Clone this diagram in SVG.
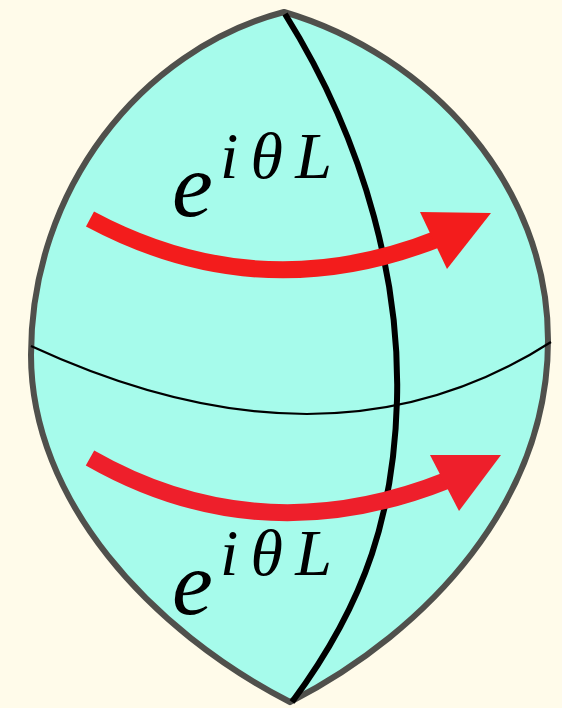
<svg xmlns="http://www.w3.org/2000/svg" width="562" height="708" viewBox="0 0 562 708">
<style>
.lbl{font-family:"Liberation Serif","DejaVu Serif",serif;font-style:italic;fill:#000}
.arrow{fill:none;stroke-width:17}
</style>
<rect width="562" height="708" fill="#fffbea"/>
<g id="sphere">
<path d="M284,12 C140,50 31,190 31,355 C31,500 150,630 290,702 C430,630 548,500 548,340 C548,185 430,55 284,12 Z" fill="#a6fbeb" stroke="#50504c" stroke-width="6" stroke-linejoin="miter"/>
</g>
<g id="connectors">
<path id="equator" d="M31,346 Q330,484 551,342" fill="none" stroke="#000" stroke-width="2.2"/>
<path id="meridian" d="M285,14 C370,150 400,290 397,400 C394,510 368,600 292,702" fill="none" stroke="#000" stroke-width="6"/>
<g id="arrow-top">
<path class="arrow" d="M90,219 Q260,310 440,238" stroke="#f31c1c"/>
<polygon points="420,212 491,213 447,269" fill="#f31c1c"/>
</g>
<g id="arrow-bottom">
<path class="arrow" d="M90,458 Q260,555 448,480" stroke="#ee1f2b"/>
<polygon points="430,455 501,455 459,511" fill="#ee1f2b"/>
</g>
</g>
<g id="label-top">
<text class="lbl" x="172" y="216" font-size="92">e</text>
<text class="lbl" x="220" y="178" font-size="66" textLength="112" lengthAdjust="spacing">iθL</text>
</g>
<g id="label-bottom">
<text class="lbl" x="172" y="614" font-size="92">e</text>
<text class="lbl" x="220" y="575" font-size="66" textLength="112" lengthAdjust="spacing">iθL</text>
</g>
</svg>
